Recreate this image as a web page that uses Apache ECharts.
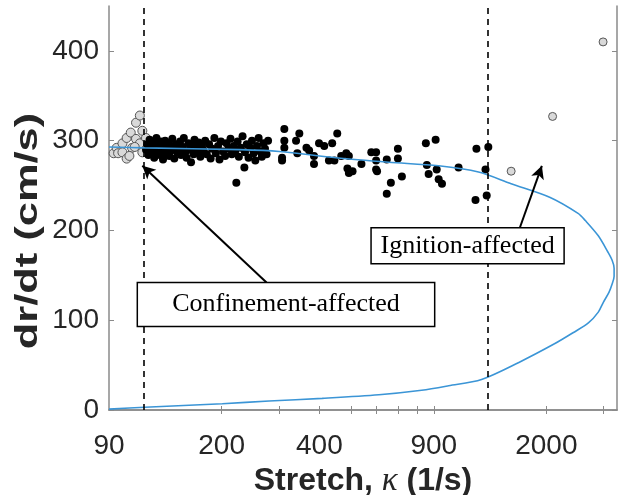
<!DOCTYPE html>
<html>
<head>
<meta charset="utf-8">
<script src="https://cdn.jsdelivr.net/npm/echarts@6/dist/echarts.min.js"></script>
<style>
  html, body { margin: 0; padding: 0; background: #fff; }
  #chart { width: 618px; height: 495px; }
</style>
</head>
<body>
<div id="chart"></div>
<script>
// Flame speed dr/dt versus stretch rate kappa (log-scaled x axis)

// Measurements in the valid window: [kappa (1/s), dr/dt (cm/s)]
const validPoints = [
  [117,290],[118,296],[119,284],[120,301],[121,292],[122,287],[123,297],[124,281],[125,293],[126,303],
  [127,288],[128,295],[129,284],[130,299],[131,290],[132,279],[133,294],[134,300],[135,286],[136,292],
  [137,297],[138,283],[140,289],[141,302],[142,294],[143,280],[145,296],[146,287],[148,291],[149,299],
  [150,284],[152,293],[153,303],[155,288],[156,281],[158,297],[160,290],[161,276],[162,295],[164,285],
  [165,301],[167,292],[169,287],[170,298],[172,282],[174,294],[176,289],[178,300],[180,285],[183,296],
  [185,280],[187,291],[190,303],[192,286],[195,294],[197,279],[199,299],[202,288],[205,283],[207,297],
  [210,291],[213,302],[215,285],[218,294],[220,288],[222,253],[224,299],[226,282],[229,292],[232,305],
  [235,270],[236,287],[239,296],[242,281],[245,292],[248,300],[251,286],[254,278],[257,294],[260,303],
  [263,288],[266,282],[269,297],[272,291],[275,285],[278,300],
  [312,313],[312,300],[312,292],[307,281],[307,278],[339,300],[347,308],[342,286],[365,292],[372,289],
  [385,274],[385,283],[399,297],[414,294],[438,297],[454,308],[428,278],[445,278],[467,283],[484,286],
  [493,283],[488,269],[493,264],[506,266],[539,274],[578,287],[598,287],[598,278],[598,268],[602,266],
  [645,279],[664,253],[645,241],[698,291],[698,280],[718,260],[851,297],[912,301],[857,273],[868,263],
  [919,268],[932,257],[954,252],[1073,270],[1218,291],[1325,293],[1299,268],[1210,234],[1310,239]
];

// Early points affected by confinement and late points affected by ignition
const confinedPoints = [
  [93,286],[95,292],[96,286],[99,297],[99,287],[102,280],[102,303],[105,309],[106,292],[109,302],
  [109,320],[112,328],[112,297],[114,311],[114,287],[117,303],[108,293],[104,283]
];
const ignitionPoints = [[1558,266],[2090,327],[2990,410]];

// Nonlinear extrapolation curve, upper branch then lower branch
const fitCurve = [
  [90,293],[116,292],[227,290],[301,288],[450,281],[653,276],[932,272],[1236,265],[1558,252],
  [2047,237],[2504,219],[2636,211],[2890,194],[3093,176],[3186,167],[3233,158],[3233,149],
  [3186,140],[3117,131],[2995,120],[2890,109],[2694,97],[2415,86],[2125,74],[1646,53],
  [1263,34],[1000,27],[826,22],[610,17],[408,13],[280,10],[201,7],[116,3],[90,1]
];

// Window bounds (vertical dashed lines)
const windowBounds = [116, 1310];

// Axis ranges and ticks
const kappaRange = [90, 3300];
const kappaLabels = [90, 200, 400, 900, 2000];
const kappaTicks = [200, 300, 400, 500, 600, 700, 800, 900, 2000, 3000];
const rateRange = [0, 450];
const rateTicks = [0, 100, 200, 300, 400];

// Annotation anchors in data space
const confinementArrow = { from: [275, 142], to: [114, 272] };
const ignitionArrow = { from: [1657, 203], to: [1937, 272] };
const confinementBox = { topLeft: [110, 142], bottomRight: [906, 93], text: 'Confinement-affected' };
const ignitionBox = { topLeft: [577, 203], bottomRight: [2268, 163], text: 'Ignition-affected' };
const yTitle = 'dr/dt (cm/s)';

const lg = v => Math.log10(v);
const toLog = pts => pts.map(p => [lg(p[0]), p[1]]);

const axisGray = '#8a8a8a';
const labelColor = '#262626';
const sans = 'Liberation Sans, Arial, sans-serif';

const chart = echarts.init(document.getElementById('chart'), null, { renderer: 'canvas' });

const xBase = {
  type: 'value',
  min: lg(kappaRange[0]),
  max: lg(kappaRange[1]),
  splitLine: { show: false },
  axisLine: { show: true, lineStyle: { color: axisGray, width: 1.5 } },
  axisTick: { show: true, inside: true, length: 4, lineStyle: { color: axisGray }, customValues: kappaTicks.map(lg) }
};
const yBase = {
  type: 'value',
  min: rateRange[0],
  max: rateRange[1],
  splitLine: { show: false },
  axisLine: { show: true, lineStyle: { color: axisGray, width: 1.5 } },
  axisTick: { show: true, inside: true, length: 5, lineStyle: { color: axisGray }, customValues: rateTicks }
};

chart.setOption({
  animation: false,
  backgroundColor: '#fff',
  grid: { left: 109, right: 1, top: 6, bottom: 85, containLabel: false, outerBoundsMode: 'none' },
  xAxis: [
    Object.assign({}, xBase, {
      position: 'bottom',
      axisLabel: {
        show: true, customValues: kappaLabels.map(lg), margin: 22,
        fontFamily: sans, fontSize: 28, color: labelColor,
        formatter: v => String(Math.round(Math.pow(10, v)))
      },
      name: '{b|Stretch, }{k|\u03ba}{b| (1/s)}',
      nameLocation: 'middle',
      nameGap: 55,
      nameTextStyle: {
        rich: {
          b: { fontFamily: sans, fontWeight: 'bold', fontSize: 32, color: labelColor },
          k: { fontFamily: 'Liberation Serif, Times New Roman, serif', fontStyle: 'italic', fontSize: 33, color: labelColor }
        }
      }
    }),
    Object.assign({}, xBase, { position: 'top', axisLabel: { show: false } })
  ],
  yAxis: [
    Object.assign({}, yBase, {
      position: 'left',
      axisLabel: {
        show: true, customValues: rateTicks, margin: 10,
        fontFamily: sans, fontSize: 28, color: labelColor
      }
    }),
    Object.assign({}, yBase, { position: 'right', axisLabel: { show: false } })
  ],
  series: [
    {
      name: 'valid',
      type: 'scatter',
      data: toLog(validPoints),
      symbolSize: 8,
      itemStyle: { color: '#000', opacity: 1 },
      z: 3
    },
    {
      name: 'confined',
      type: 'scatter',
      data: toLog(confinedPoints),
      symbolSize: 9,
      itemStyle: { color: '#d9d9d9', borderColor: '#555', borderWidth: 1, opacity: 1 },
      z: 2
    },
    {
      name: 'ignition',
      type: 'scatter',
      data: toLog(ignitionPoints),
      symbolSize: 8,
      itemStyle: { color: '#d9d9d9', borderColor: '#555', borderWidth: 1, opacity: 1 },
      z: 2
    },
    {
      name: 'fit',
      type: 'line',
      data: toLog(fitCurve),
      smooth: 0.3,
      showSymbol: false,
      lineStyle: { color: '#3b95d6', width: 1.6 },
      z: 4,
      markLine: {
        silent: true,
        animation: false,
        symbol: ['none', 'none'],
        label: { show: false },
        lineStyle: { color: '#000', type: [6, 5], width: 1.6 },
        data: windowBounds.map(k => ({ xAxis: lg(k) }))
      }
    },
    {
      name: 'arrows',
      type: 'line',
      data: [],
      markLine: {
        silent: true,
        animation: false,
        label: { show: false },
        symbol: ['none', 'arrow'],
        symbolSize: [10, 13],
        lineStyle: { color: '#000', type: 'solid', width: 2 },
        data: [confinementArrow, ignitionArrow].map(a => [
          { coord: [lg(a.from[0]), a.from[1]] },
          { coord: [lg(a.to[0]), a.to[1]] }
        ])
      }
    }
  ]
});

// Boxed annotations, placed from their data-space corners
function boxGraphic(box) {
  const p0 = chart.convertToPixel({ gridIndex: 0 }, [lg(box.topLeft[0]), box.topLeft[1]]);
  const p1 = chart.convertToPixel({ gridIndex: 0 }, [lg(box.bottomRight[0]), box.bottomRight[1]]);
  return [
    {
      type: 'rect',
      shape: { x: p0[0], y: p0[1], width: p1[0] - p0[0], height: p1[1] - p0[1] },
      style: { fill: '#fff', stroke: '#000', lineWidth: 1.5 },
      z: 100
    },
    {
      type: 'text',
      x: (p0[0] + p1[0]) / 2,
      y: (p0[1] + p1[1]) / 2,
      style: {
        text: box.text, fill: '#000', align: 'center', verticalAlign: 'middle',
        fontFamily: 'Liberation Serif, Times New Roman, serif', fontSize: 26
      },
      z: 101
    }
  ];
}

// Vertical axis title, stretched along its reading direction
const yTitleGraphic = {
  type: 'text',
  x: 28,
  y: 231,
  rotation: Math.PI / 2,
  scaleX: 1.4,
  style: {
    text: yTitle, fill: labelColor, align: 'center', verticalAlign: 'middle',
    fontFamily: sans, fontWeight: 'bold', fontSize: 31
  },
  z: 100
};

chart.setOption({ graphic: boxGraphic(confinementBox).concat(boxGraphic(ignitionBox), [yTitleGraphic]) });
</script>
</body>
</html>
